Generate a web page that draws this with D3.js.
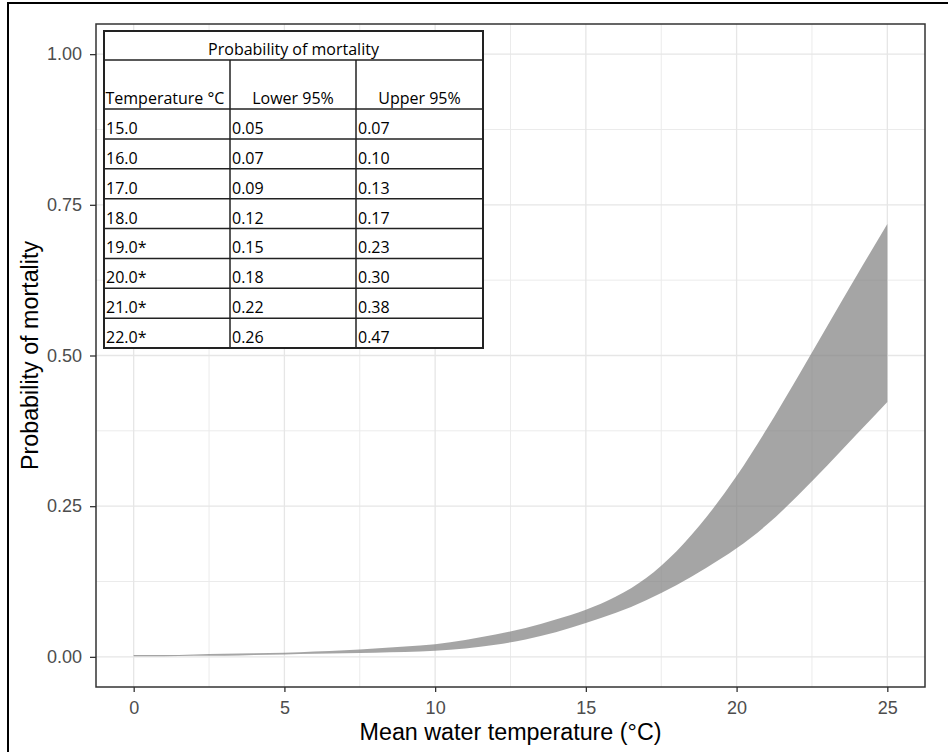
<!DOCTYPE html>
<html><head><meta charset="utf-8">
<script src="https://cdn.jsdelivr.net/npm/d3@7"></script>
<style>body{margin:0;background:#fff;} svg{display:block;}</style>
</head><body><svg id="chart" width="948" height="752"></svg>
<script>
// ---- data ----
const temps = [0,1,2,3,4,5,6,7,8,9,10,11,12,13,14,15,16,17,18,19,20,21,22,23,24,25];
const lower = [0.001,0.001,0.002,0.002,0.003,0.004,0.005,0.006,0.007,0.008,0.010,0.014,0.020,0.029,0.041,0.056,0.073,0.094,0.119,0.148,0.180,0.219,0.266,0.317,0.370,0.423];
const upper = [0.003,0.003,0.004,0.005,0.006,0.007,0.009,0.011,0.014,0.017,0.021,0.028,0.037,0.048,0.062,0.078,0.100,0.131,0.175,0.232,0.300,0.378,0.462,0.548,0.634,0.718];
const xTicks = [0,5,10,15,20,25];
const xMinor = [2.5,7.5,12.5,17.5,22.5];
const yTicks = [0,0.25,0.5,0.75,1];
const yMinor = [0.125,0.375,0.625,0.875];
const yTickLabels = ["0.00","0.25","0.50","0.75","1.00"];
const xTitle = "Mean water temperature (°C)";
const yTitle = "Probability of mortality";
const tableTitle = "Probability of mortality";
const tableHeaders = ["Temperature °C","Lower 95%","Upper 95%"];
const tableTemps = ["15.0","16.0","17.0","18.0","19.0*","20.0*","21.0*","22.0*"];
const tableLower = ["0.05","0.07","0.09","0.12","0.15","0.18","0.22","0.26"];
const tableUpper = ["0.07","0.10","0.13","0.17","0.23","0.30","0.38","0.47"];

// ---- layout ----
const svg = d3.select("#chart");
const P = {l:96, r:925, t:24, b:687};
const x = d3.scaleLinear().domain([-1.25, 26.25]).range([P.l, P.r]);
const y = d3.scaleLinear().domain([-0.05, 1.05]).range([P.b, P.t]);

svg.append("rect").attr("width",948).attr("height",752).attr("fill","#fff");
// outer frame
svg.append("rect").attr("x",8).attr("y",3).attr("width",960).attr("height",780)
  .attr("fill","none").attr("stroke","#000").attr("stroke-width",2);

// grid
const g = svg.append("g");
g.selectAll(".xmin").data(xMinor).join("line")
  .attr("x1",d=>x(d)).attr("x2",d=>x(d)).attr("y1",P.t).attr("y2",P.b)
  .attr("stroke","#ebebeb").attr("stroke-width",1);
g.selectAll(".ymin").data(yMinor).join("line")
  .attr("y1",d=>y(d)).attr("y2",d=>y(d)).attr("x1",P.l).attr("x2",P.r)
  .attr("stroke","#ebebeb").attr("stroke-width",1);
g.selectAll(".xmaj").data(xTicks).join("line")
  .attr("x1",d=>x(d)).attr("x2",d=>x(d)).attr("y1",P.t).attr("y2",P.b)
  .attr("stroke","#e6e6e6").attr("stroke-width",1.3);
g.selectAll(".ymaj").data(yTicks).join("line")
  .attr("y1",d=>y(d)).attr("y2",d=>y(d)).attr("x1",P.l).attr("x2",P.r)
  .attr("stroke","#e6e6e6").attr("stroke-width",1.3);

// ribbon
const rows = temps.map((t,i)=>({t, lo:lower[i], hi:upper[i]}));
const area = d3.area().curve(d3.curveMonotoneX)
  .x(d=>x(d.t)).y0(d=>y(d.lo)).y1(d=>y(d.hi));
svg.append("path").datum(rows).attr("d",area)
  .attr("fill","#7f7f7f").attr("fill-opacity",0.7);

// panel border
svg.append("rect").attr("x",P.l).attr("y",P.t).attr("width",P.r-P.l).attr("height",P.b-P.t)
  .attr("fill","none").attr("stroke","#333").attr("stroke-width",1.5);

// axes
const xa = svg.append("g").attr("transform",`translate(0,${P.b})`)
  .call(d3.axisBottom(x).tickValues(xTicks).tickSize(5).tickPadding(9).tickFormat(d3.format("d")));
const ya = svg.append("g").attr("transform",`translate(${P.l},0)`)
  .call(d3.axisLeft(y).tickValues(yTicks).tickSize(6).tickPadding(8).tickFormat((d,i)=>yTickLabels[i]));
[xa,ya].forEach(a=>{
  a.select(".domain").remove();
  a.selectAll(".tick line").attr("stroke","#333").attr("stroke-width",1.3);
  a.selectAll(".tick text").attr("fill","#4d4d4d")
    .style("font-family","'Liberation Sans', Arial, sans-serif").style("font-size","18px");
});

// titles
svg.append("text").attr("x",(P.l+P.r)/2).attr("y",740).attr("text-anchor","middle")
  .style("font-family","'Liberation Sans', Arial, sans-serif").style("font-size","23.3px")
  .attr("fill","#000").text(xTitle);
svg.append("text").attr("transform",`translate(38,${(P.t+P.b)/2}) rotate(-90)`).attr("text-anchor","middle")
  .style("font-family","'Liberation Sans', Arial, sans-serif").style("font-size","23.3px")
  .attr("fill","#000").text(yTitle);

// table
const T = {l:104, r:483, t:31, h1:60, h2:109, b:348};
const colX = [T.l, 230, 356, T.r];
const rowY = d3.scaleLinear().domain([0, tableTemps.length]).range([T.h2, T.b]);
const tg = svg.append("g").style("font-family","'Open Sans', sans-serif").style("font-size","16px").attr("fill","#000");
tg.append("rect").attr("x",T.l).attr("y",T.t).attr("width",T.r-T.l).attr("height",T.b-T.t).attr("fill","#fff");
tg.append("line").attr("x1",T.l).attr("x2",T.r).attr("y1",T.h1).attr("y2",T.h1).attr("stroke","#222").attr("stroke-width",1.5);
tg.append("line").attr("x1",T.l).attr("x2",T.r).attr("y1",T.h2).attr("y2",T.h2).attr("stroke","#222").attr("stroke-width",1.5);
tg.selectAll(".rl").data(d3.range(1,tableTemps.length)).join("line")
  .attr("x1",T.l).attr("x2",T.r).attr("y1",d=>rowY(d)).attr("y2",d=>rowY(d)).attr("stroke","#222").attr("stroke-width",1.5);
tg.selectAll(".cl").data([colX[1],colX[2]]).join("line")
  .attr("x1",d=>d).attr("x2",d=>d).attr("y1",T.h1).attr("y2",T.b).attr("stroke","#222").attr("stroke-width",1.5);
tg.append("rect").attr("x",T.l).attr("y",T.t).attr("width",T.r-T.l).attr("height",T.b-T.t)
  .attr("fill","none").attr("stroke","#222").attr("stroke-width",2);
tg.append("text").attr("x",(T.l+T.r)/2).attr("y",54.5).attr("text-anchor","middle").text(tableTitle);
tg.append("text").attr("x",colX[0]+1.5).attr("y",104).text(tableHeaders[0]);
tg.append("text").attr("x",(colX[1]+colX[2])/2).attr("y",104).attr("text-anchor","middle").text(tableHeaders[1]);
tg.append("text").attr("x",(colX[2]+colX[3])/2).attr("y",104).attr("text-anchor","middle").text(tableHeaders[2]);
const cols = [tableTemps, tableLower, tableUpper];
cols.forEach((arr,c)=>{
  tg.selectAll(".c"+c).data(arr).join("text")
    .attr("x",colX[c]+2).attr("y",(d,i)=>rowY(i+1)-5).text(d=>d);
});
</script></body></html>
